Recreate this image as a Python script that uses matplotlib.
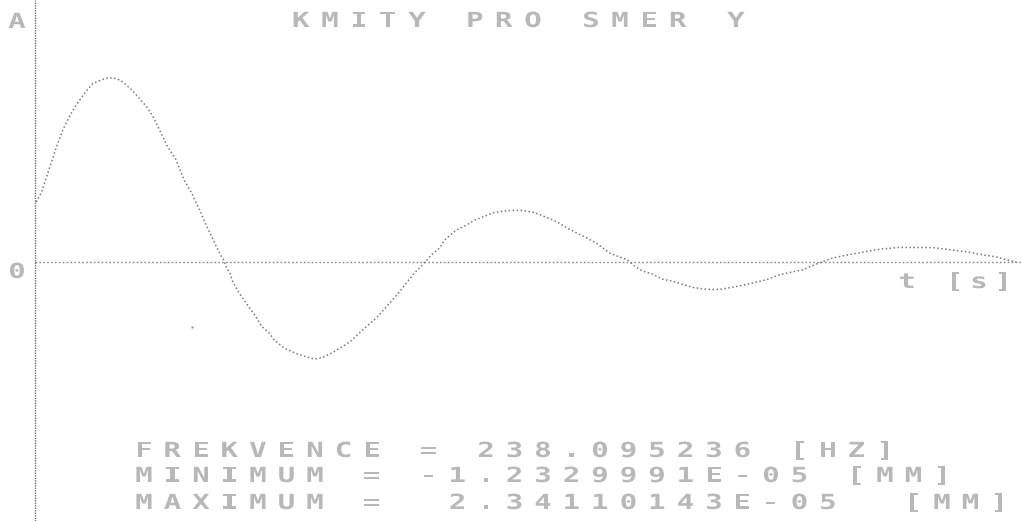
import matplotlib
matplotlib.use("Agg")
import matplotlib.pyplot as plt
from matplotlib.patheffects import AbstractPathEffect
from matplotlib.transforms import Affine2D

# Damped response of the structure in direction Y
# time in milliseconds, displacement in units of 1e-5 mm
time_ms = [
    0.018, 0.072, 0.107, 0.171, 0.239, 0.303, 0.375, 0.439, 0.536, 0.625,
    0.750, 0.836, 0.890, 0.954, 1.050, 1.200, 1.265, 1.329, 1.426, 1.511,
    1.608, 1.683, 1.779, 1.844, 1.886, 1.951, 1.994, 2.026, 2.055, 2.098,
    2.122, 2.186, 2.261, 2.369, 2.433, 2.508, 2.572, 2.680, 2.797, 2.915,
    3.000, 3.087, 3.194, 3.301, 3.398, 3.462, 3.569, 3.666, 3.773, 3.837,
    3.912, 3.987, 4.073, 4.148, 4.252, 4.341, 4.394, 4.520, 4.627, 4.716,
    4.823, 4.930, 5.091, 5.230, 5.359, 5.466, 5.595, 5.702, 5.809, 5.916,
    6.034, 6.163, 6.270, 6.356, 6.431, 6.517, 6.624, 6.731, 6.838, 6.945,
    7.053, 7.203, 7.342, 7.524, 7.663, 7.846, 7.985, 8.124, 8.232, 8.307,
    8.382, 8.553, 8.703, 8.875, 9.057, 9.271, 9.486, 9.625, 9.807, 9.989,
    10.161, 10.311, 10.418, 10.525,
]
disp_e5_mm = [
    0.762, 0.877, 1.003, 1.231, 1.473, 1.676, 1.853, 1.980, 2.144, 2.271,
    2.330, 2.3411, 2.324, 2.281, 2.179, 1.975, 1.860, 1.707, 1.465, 1.312,
    1.032, 0.879, 0.637, 0.459, 0.357, 0.191, 0.090, 0.026, -0.063, -0.152,
    -0.241, -0.382, -0.509, -0.688, -0.815, -0.892, -0.994, -1.096, -1.160, -1.205,
    -1.2330, -1.215, -1.150, -1.075, -0.999, -0.923, -0.809, -0.708, -0.569, -0.480,
    -0.379, -0.266, -0.139, -0.050, 0.089, 0.177, 0.278, 0.405, 0.468, 0.531,
    0.581, 0.631, 0.655, 0.655, 0.628, 0.577, 0.513, 0.436, 0.371, 0.308,
    0.230, 0.115, 0.064, 0.025, -0.051, -0.115, -0.154, -0.218, -0.244, -0.283,
    -0.322, -0.348, -0.349, -0.312, -0.275, -0.225, -0.162, -0.125, -0.100, -0.063,
    -0.025, 0.050, 0.087, 0.125, 0.162, 0.186, 0.184, 0.183, 0.157, 0.130,
    0.091, 0.065, 0.026, 0.0,
]
# lone plotter dot left below the first swing
spot_t_ms = [1.693]
spot_disp = [-0.83]

title_text = "KMITY PRO SMER Y"
y_axis_label = "A"
zero_label = "0"
x_axis_label = "t [s]"
info_lines = [
    "FREKVENCE = 238.095236 [HZ]",
    "MINIMUM = -1.2329991E-05 [MM]",
    "MAXIMUM =  2.34110143E-05  [MM]",
]


class WideGlyph(AbstractPathEffect):
    """Stretch each glyph horizontally about its own centre (plotter-style wide characters)."""

    def __init__(self, sx=1.45):
        super().__init__()
        self.sx = sx

    def draw_path(self, renderer, gc, tpath, affine, rgbFace=None):
        ext = tpath.get_extents(affine)
        cx = 0.5 * (ext.x0 + ext.x1)
        stretched = affine + Affine2D().translate(-cx, 0).scale(self.sx, 1).translate(cx, 0)
        renderer.draw_path(gc, tpath, stretched, rgbFace)


W, H = 1021, 521
fig = plt.figure(figsize=(W / 100, H / 100), dpi=100)
fig.patch.set_facecolor("white")
ax = fig.add_axes([0, 0, 1, 1])
ax.axis("off")

px_per_ms = 93.3
px_per_unit = 78.7
x0_px, zero_px = 34.5, 262.0
ax.set_xlim(-x0_px / px_per_ms, (W - x0_px) / px_per_ms)
ax.set_ylim(-(H - zero_px) / px_per_unit, zero_px / px_per_unit)

# axes drawn as plotter dot rows
ax.plot([0, 0], [ax.get_ylim()[0], ax.get_ylim()[1]], color="#707070",
        lw=1.0, linestyle=(0, (1.0, 0.8)))
ax.plot([0, ax.get_xlim()[1]], [0, 0], color="#8a8a8a",
        lw=1.0, linestyle=(0, (1.2, 1.6)))

# response curve
ax.plot(time_ms, disp_e5_mm, color="#7a7a7a", lw=1.1,
        linestyle=(0, (1.0, 1.6)))
ax.plot(spot_t_ms, spot_disp, linestyle="none", marker="s", ms=1.6,
        color="#909090", mec="none")

TXT = dict(family="DejaVu Sans Mono", fontsize=15, fontweight="bold",
           color="#b8b8b8", ha="center", va="center",
           path_effects=[WideGlyph(1.4)])


def put_row(text, left_px, y_px, pitch):
    """Place characters on a fixed pitch, like a plotter character generator."""
    for i, ch in enumerate(text):
        if ch == " ":
            continue
        fig.text((left_px + i * pitch + 9) / W, 1 - y_px / H, ch, **TXT)


put_row(title_text, 292, 21, 29)
put_row(y_axis_label, 8, 22, 25)
put_row(zero_label, 8, 272, 25)
put_row(x_axis_label, 898, 282, 24)

rows_y = [451, 476, 503]
for line, yy in zip(info_lines, rows_y):
    put_row(line, 135, yy, 28.5)

fig.savefig("out.png", dpi=100, facecolor="white")
